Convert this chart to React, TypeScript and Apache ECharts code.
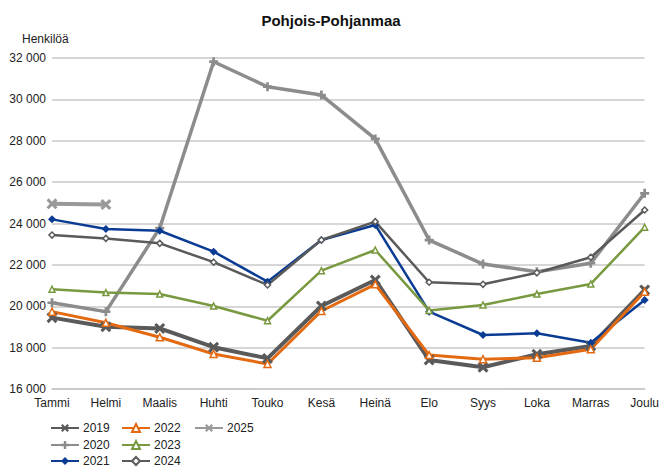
import React, { useEffect, useRef } from "react";
import * as echarts from "echarts";

const months = ["Tammi", "Helmi", "Maalis", "Huhti", "Touko", "Kesä", "Heinä", "Elo", "Syys", "Loka", "Marras", "Joulu"];

const y2019 = [19450, 19010, 18930, 18020, 17480, 20010, 21270, 17400, 17050, 17680, 18080, 20790];
const y2020 = [20170, 19740, 23780, 31820, 30610, 30210, 28090, 23200, 22040, 21670, 22080, 25460];
const y2021 = [24200, 23730, 23650, 22640, 21190, 23200, 23930, 19740, 18610, 18690, 18240, 20300];
const y2022 = [19740, 19200, 18500, 17690, 17210, 19770, 21060, 17640, 17440, 17510, 17920, 20700];
const y2023 = [20820, 20660, 20590, 20010, 19300, 21720, 22720, 19800, 20060, 20590, 21080, 23820];
const y2024 = [23440, 23280, 23040, 22130, 21030, 23200, 24090, 21160, 21060, 21620, 22370, 24650];
const y2025 = [24950, 24920];

const yTicks = { min: 16000, max: 32000, interval: 2000 };

const XSYM = "path://M0,2 L2,0 L5,3 L8,0 L10,2 L7,5 L10,8 L8,10 L5,7 L2,10 L0,8 L3,5 Z";
const PLUS = "path://M3.5,0 L6.5,0 L6.5,3.5 L10,3.5 L10,6.5 L6.5,6.5 L6.5,10 L3.5,10 L3.5,6.5 L0,6.5 L0,3.5 L3.5,3.5 Z";

const FONT = "Liberation Sans, Arial, sans-serif";

const legendPos: [string, number, number][] = [
  ["2019", 50, 422],
  ["2020", 50, 439],
  ["2021", 50, 455],
  ["2022", 121, 422],
  ["2023", 121, 439],
  ["2024", 121, 455],
  ["2025", 194, 422],
];

export default function App() {
  const ref = useRef<HTMLDivElement>(null);
  useEffect(() => {
    if (!ref.current) return;
    const chart = echarts.init(ref.current, undefined, { renderer: "svg" });
    const mk = (name: string, data: number[], color: string, width: number, symbol: string, size: number, fill?: string) => ({
      name,
      type: "line",
      data,
      symbol,
      symbolSize: size,
      showSymbol: true,
      lineStyle: { color, width },
      itemStyle: { color: fill || color, borderColor: color, borderWidth: fill ? 1.5 : 0 },
      z: 2,
    });
    chart.setOption({
      animation: false,
      textStyle: { fontFamily: FONT },
      title: {
        text: "Pohjois-Pohjanmaa",
        left: "center",
        top: 8,
        textStyle: { fontSize: 15, fontWeight: "bold", color: "#111", fontFamily: FONT },
      },
      graphic: [
        { type: "text", left: 22, top: 33, style: { text: "Henkilöä", fontSize: 12, fill: "#222", fontFamily: FONT } },
      ],
      grid: { left: 52, right: 16, top: 58, bottom: 79 },
      legend: legendPos.map(([name, left, top]) => ({
        data: [name],
        left,
        top,
        itemWidth: 28,
        itemHeight: 10,
        padding: 0,
        itemGap: 0,
        textStyle: { fontSize: 12, color: "#222", fontFamily: FONT, padding: [0, 0, 0, -1] },
      })),
      xAxis: {
        type: "category",
        data: months,
        boundaryGap: false,
        axisLine: { show: true, lineStyle: { color: "#c8c8c8", width: 1.5 } },
        axisTick: { show: false },
        axisLabel: { fontSize: 12, color: "#222", margin: 8, fontFamily: FONT },
      },
      yAxis: {
        type: "value",
        min: yTicks.min,
        max: yTicks.max,
        interval: yTicks.interval,
        axisLine: { show: false },
        axisTick: { show: false },
        splitLine: { lineStyle: { color: "#c8c8c8", width: 1.5 } },
        axisLabel: {
          fontSize: 12,
          color: "#222",
          margin: 6,
          fontFamily: FONT,
          formatter: (v: number) => String(v).replace(/\B(?=(\d{3})+(?!\d))/g, " "),
        },
      },
      series: [
        mk("2019", y2019, "#5a5a5a", 4, XSYM, 11),
        mk("2020", y2020, "#8c8c8c", 3.5, PLUS, 9),
        mk("2021", y2021, "#0b3c94", 2.5, "diamond", 8),
        mk("2022", y2022, "#e46a12", 3, "triangle", 7, "#ffffff"),
        mk("2023", y2023, "#78993f", 2.5, "triangle", 6, "#ffffff"),
        mk("2024", y2024, "#5a5a5a", 2.5, "diamond", 6, "#ffffff"),
        mk("2025", y2025, "#999999", 4, XSYM, 11),
      ],
    });
    return () => chart.dispose();
  }, []);
  return <div ref={ref} style={{ width: 662, height: 468, position: "absolute", left: 0, top: 0 }} />;
}
